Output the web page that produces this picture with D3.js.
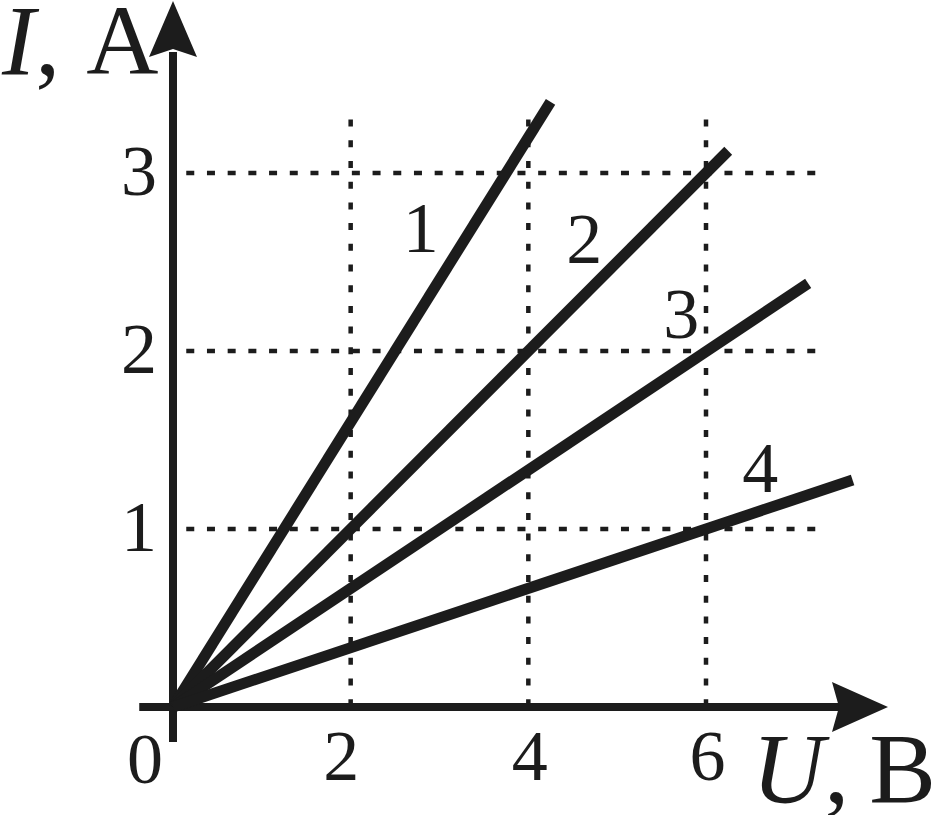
<!DOCTYPE html>
<html>
<head>
<meta charset="utf-8">
<script src="https://cdn.jsdelivr.net/npm/d3@7/dist/d3.min.js"></script>
<style>
  html, body { margin: 0; padding: 0; background: #fff; }
  svg { display: block; }
</style>
</head>
<body>
<script>
// ---- data ----
const uTicks = [2, 4, 6];          // U, B
const iTicks = [1, 2, 3];          // I, A
const seriesNames = ["1", "2", "3", "4"];
const seriesU = [[0, 4.25], [0, 6.25], [0, 7.15], [0, 7.65]];
const seriesI = [[0, 3.40], [0, 3.125], [0, 2.38], [0, 1.275]];

// ---- layout ----
const W = 932, H = 815;
const ink = "#1c1c1c";
const x = d3.scaleLinear().domain([0, 6]).range([173, 706]);
const y = d3.scaleLinear().domain([0, 3]).range([707, 173]);

const svg = d3.select("body").append("svg").attr("width", W).attr("height", H);

// grid
const gridTopI = 3.3, gridRightU = 7.23;
svg.append("g").selectAll("line").data(uTicks).join("line")
  .attr("x1", d => x(d)).attr("x2", d => x(d))
  .attr("y1", y(gridTopI)).attr("y2", y(0))
  .attr("stroke", ink).attr("stroke-width", 4.5).attr("stroke-dasharray", "7,13.7");
svg.append("g").selectAll("line").data(iTicks).join("line")
  .attr("x1", x(gridRightU)).attr("x2", x(0))
  .attr("y1", d => y(d)).attr("y2", d => y(d))
  .attr("stroke", ink).attr("stroke-width", 4.5).attr("stroke-dasharray", "8,12.7");

// axes lines
svg.append("line").attr("x1", x(-0.38)).attr("x2", 840).attr("y1", y(0)).attr("y2", y(0))
  .attr("stroke", ink).attr("stroke-width", 8);
svg.append("line").attr("x1", x(0)).attr("x2", x(0)).attr("y1", y(-0.197)).attr("y2", 52)
  .attr("stroke", ink).attr("stroke-width", 8);

// arrow heads
const ox = x(0), oy = y(0);
svg.append("path")
  .attr("d", `M${ox},1 L${ox + 24},57 L${ox},49 L${ox - 24},57 Z`)
  .attr("fill", ink);
svg.append("path")
  .attr("d", `M888,${oy} L832,${oy - 25} L839,${oy} L832,${oy + 25} Z`)
  .attr("fill", ink);

// data lines
const lineGen = d3.line().x(d => x(d[0])).y(d => y(d[1]));
const seriesData = seriesNames.map((n, k) => seriesU[k].map((u, j) => [u, seriesI[k][j]]));
svg.append("g").selectAll("path").data(seriesData).join("path")
  .attr("d", lineGen)
  .attr("fill", "none").attr("stroke", ink).attr("stroke-width", 11)
  .attr("stroke-linecap", "butt");

// series labels
const fontFam = "'Liberation Serif', 'Times New Roman', serif";
const labelAt = [[2.79, 2.556], [4.63, 2.494], [5.72, 2.073], [6.61, 1.208]];
svg.append("g").selectAll("text").data(seriesNames).join("text")
  .attr("x", (d, k) => x(labelAt[k][0])).attr("y", (d, k) => y(labelAt[k][1]))
  .attr("text-anchor", "middle")
  .attr("font-family", fontFam)
  .attr("font-size", 72).attr("fill", ink)
  .text(d => d);

// tick labels
const xAxis = svg.append("g").attr("transform", `translate(0,${oy})`)
  .call(d3.axisBottom(x).tickValues(uTicks).tickSize(0).tickFormat(d3.format("d")));
xAxis.select(".domain").remove();
xAxis.selectAll("text").attr("y", 73).attr("dy", null)
  .attr("dx", (d, k) => k === 0 ? -10 : 1)
  .attr("font-family", fontFam).attr("font-size", 72).attr("fill", ink);

const yAxis = svg.append("g").attr("transform", `translate(${ox},0)`)
  .call(d3.axisLeft(y).tickValues(iTicks).tickSize(0).tickFormat(d3.format("d")));
yAxis.select(".domain").remove();
yAxis.selectAll("text").attr("x", -16).attr("dy", null).attr("y", 21)
  .attr("font-family", fontFam).attr("font-size", 72).attr("fill", ink);

svg.append("text").attr("x", 145).attr("y", oy + 76).attr("text-anchor", "middle")
  .attr("font-family", fontFam).attr("font-size", 72).attr("fill", ink).text("0");

// axis titles
const tI = svg.append("text").attr("x", 2).attr("y", 74)
  .attr("font-family", fontFam).attr("font-size", 100).attr("fill", ink);
tI.append("tspan").attr("font-style", "italic").text("I");
tI.append("tspan").text(",");
tI.append("tspan").attr("dx", 26).text("A");

const tU = svg.append("text").attr("x", 752).attr("y", 802)
  .attr("font-family", fontFam).attr("font-size", 100).attr("fill", ink);
tU.append("tspan").attr("font-style", "italic").text("U");
tU.append("tspan").text(",");
tU.append("tspan").attr("dx", 20).text("B");
</script>
</body>
</html>
